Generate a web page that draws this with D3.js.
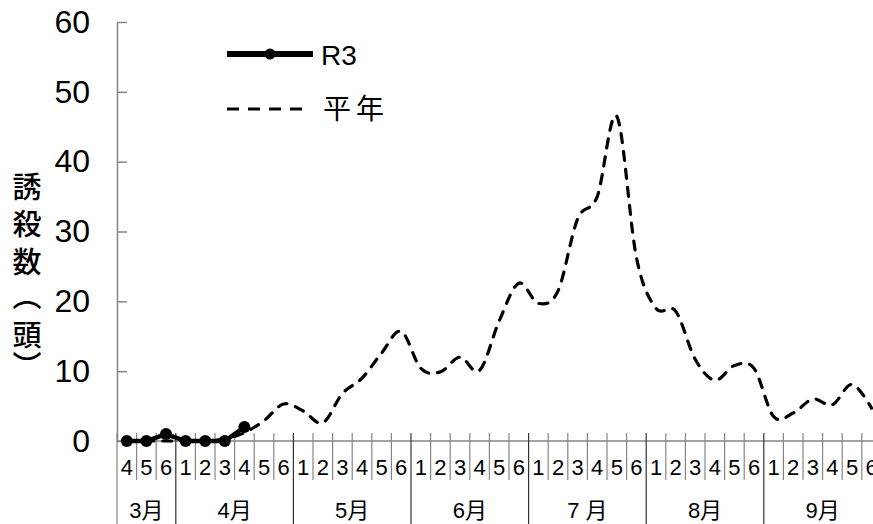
<!DOCTYPE html>
<html>
<head>
<meta charset="utf-8">
<script src="https://cdn.jsdelivr.net/npm/d3@7"></script>
<style>
  body { margin: 0; background: #fff; }
  svg { display: block; }
  text { font-family: "Liberation Sans", "Noto Sans CJK JP", sans-serif; fill: #000; }
</style>
</head>
<body>
<script>
// categories: half-month periods (半旬) grouped by month
const months = ["3月", "4月", "5月", "6月", "7 月", "8月", "9月"];
const monthSpans = [3, 6, 6, 6, 6, 6, 6];
const pentadLabels = [
  "4", "5", "6",
  "1", "2", "3", "4", "5", "6",
  "1", "2", "3", "4", "5", "6",
  "1", "2", "3", "4", "5", "6",
  "1", "2", "3", "4", "5", "6",
  "1", "2", "3", "4", "5", "6",
  "1", "2", "3", "4", "5", "6"
];

// series
const r3 = [0, 0, 1, 0, 0, 0, 2];
const heinen = [
  0, 0, 0,
  0, 0, 0.3, 1.2, 2.9, 5.3,
  4.3, 2.6, 6.8, 9.0, 12.6, 15.7,
  10.4, 9.9, 12.0, 10.1, 17.2, 22.6,
  19.7, 21.5, 31.8, 35.0, 46.5, 26.3,
  19.0, 18.6, 11.7, 8.7, 10.8, 10.4,
  3.5, 4.0, 6.0, 5.2, 8.1, 4.7
];
const yTicks = [0, 10, 20, 30, 40, 50, 60];

const W = 873, H = 524;
const margin = { top: 22, left: 117 };
const plotBottom = 441;
const step = 19.6;

const svg = d3.select("body").append("svg")
  .attr("width", W)
  .attr("height", H);

const idx = d3.range(pentadLabels.length);

let x = d3.scaleBand()
  .domain(idx)
  .range([margin.left, margin.left + step * idx.length])
  .paddingInner(0)
  .paddingOuter(0);

let y = d3.scaleLinear()
  .domain([0, 60])
  .range([plotBottom, margin.top]);

const cx = (i) => x(i) + x.bandwidth() / 2;
const axisGray = "#858585";

// y axis (ticks point into the plot)
let yAxis = svg.append("g")
  .attr("transform", "translate(" + margin.left + ",0)")
  .call(d3.axisLeft(y).tickValues(yTicks).tickSizeInner(-10).tickSizeOuter(0).tickPadding(27));
yAxis.select(".domain").attr("stroke", axisGray).attr("stroke-width", 1.5);
yAxis.selectAll(".tick line").attr("stroke", axisGray).attr("stroke-width", 1.5);
yAxis.selectAll(".tick text")
  .style("font-family", "'Liberation Sans', sans-serif")
  .style("font-size", "32px")
  .attr("fill", "#000");

// y axis title, stacked vertically (vertical bracket forms)
const titleChars = ["誘", "殺", "数", "︵", "頭", "︶"];
const titleY = [185, 222, 260, 294, 333, 364];
svg.append("g").selectAll("text")
  .data(titleChars)
  .enter().append("text")
  .attr("x", 27)
  .attr("y", (d, i) => titleY[i])
  .attr("text-anchor", "middle")
  .attr("dominant-baseline", "central")
  .style("font-family", "'Noto Sans CJK JP', sans-serif")
  .style("font-weight", "500")
  .style("font-size", "29px")
  .text((d) => d);

// x axis line
svg.append("line")
  .attr("x1", margin.left).attr("x2", W + 20)
  .attr("y1", plotBottom).attr("y2", plotBottom)
  .attr("stroke", axisGray).attr("stroke-width", 1.5);

// category boundaries
const bounds = d3.range(pentadLabels.length + 1);
const monthStarts = d3.cumsum([0].concat(monthSpans));
svg.append("g").selectAll("line")
  .data(bounds)
  .enter().append("line")
  .attr("x1", (k) => margin.left + k * x.step())
  .attr("x2", (k) => margin.left + k * x.step())
  .attr("y1", plotBottom - 8)
  .attr("y2", (k) => monthStarts.includes(k) ? H : 480)
  .attr("stroke", (k) => monthStarts.includes(k) && k > 0 ? "#333" : axisGray)
  .attr("stroke-width", 1.2);

// pentad labels
svg.append("g").selectAll("text")
  .data(pentadLabels)
  .enter().append("text")
  .attr("x", (d, i) => cx(i))
  .attr("y", 475)
  .attr("text-anchor", "middle")
  .style("font-size", "22px")
  .text((d) => d);

// month labels
svg.append("g").selectAll("text")
  .data(months)
  .enter().append("text")
  .attr("x", (d, i) => margin.left + (monthStarts[i] + monthSpans[i] / 2) * x.step())
  .attr("y", 518)
  .attr("text-anchor", "middle")
  .style("font-size", "22px")
  .text((d) => d);

// 平年 line (smoothed, dashed)
let smooth = d3.line()
  .x((d, i) => cx(i))
  .y((d) => y(d))
  .curve(d3.curveCardinal.tension(0));

svg.append("path")
  .datum(heinen)
  .attr("d", smooth)
  .attr("fill", "none")
  .attr("stroke", "#000")
  .attr("stroke-width", 3.2)
  .attr("stroke-dasharray", "9,9")
  .attr("stroke-linecap", "round");

// R3 line with markers
let straight = d3.line()
  .x((d, i) => cx(i))
  .y((d) => y(d));

svg.append("path")
  .datum(r3)
  .attr("d", straight)
  .attr("fill", "none")
  .attr("stroke", "#000")
  .attr("stroke-width", 4.5);

svg.append("g").selectAll("circle")
  .data(r3)
  .enter().append("circle")
  .attr("cx", (d, i) => cx(i))
  .attr("cy", (d) => y(d))
  .attr("r", 6)
  .attr("fill", "#000");

// legend
let legend = svg.append("g");
legend.append("line")
  .attr("x1", 227).attr("x2", 313)
  .attr("y1", 54).attr("y2", 54)
  .attr("stroke", "#000").attr("stroke-width", 6);
legend.append("circle")
  .attr("cx", 270).attr("cy", 54).attr("r", 5.5).attr("fill", "#000");
legend.append("text")
  .attr("x", 321).attr("y", 65)
  .style("font-size", "28px")
  .text("R3");

legend.append("line")
  .attr("x1", 227).attr("x2", 310)
  .attr("y1", 109).attr("y2", 109)
  .attr("stroke", "#000").attr("stroke-width", 3)
  .attr("stroke-dasharray", "12,9");
legend.append("text")
  .attr("x", 323).attr("y", 119)
  .style("font-family", "'Noto Sans CJK JP', sans-serif")
  .style("font-size", "28px")
  .style("letter-spacing", "5px")
  .text("平年");
</script>
</body>
</html>
